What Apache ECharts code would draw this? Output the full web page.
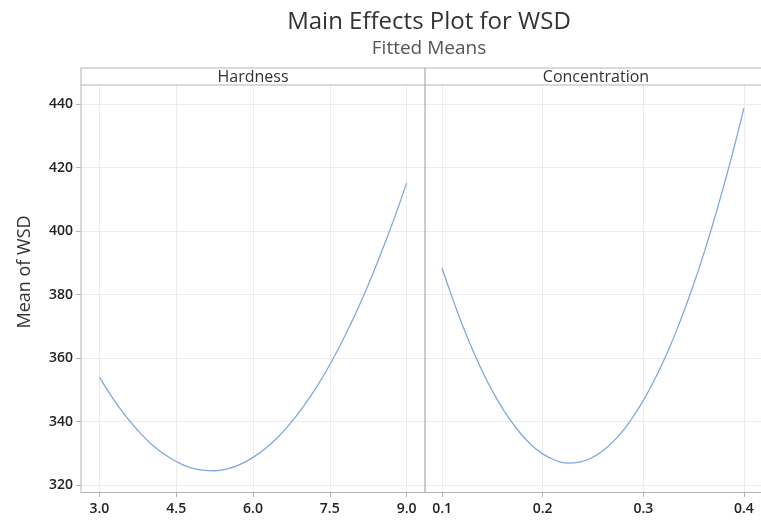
<!DOCTYPE html>
<html>
<head>
<meta charset="utf-8">
<script src="https://cdn.jsdelivr.net/npm/echarts@6/dist/echarts.min.js"></script>
<style>
  html, body { margin: 0; padding: 0; background: #fff; }
  #chart { width: 761px; height: 521px; }
</style>
</head>
<body>
<div id="chart"></div>
<script>
// Fitted means of WSD across the two factors
const hardness = [3.0, 3.25, 3.5, 3.75, 4.0, 4.25, 4.5, 4.75, 5.0, 5.25, 5.5, 5.75, 6.0,
  6.25, 6.5, 6.75, 7.0, 7.25, 7.5, 7.75, 8.0, 8.25, 8.5, 8.75, 9.0];
const wsdByHardness = [354.0, 347.6, 342.0, 337.2, 333.1, 329.9, 327.4, 325.6, 324.7, 324.5,
  325.1, 326.5, 328.7, 331.6, 335.3, 339.8, 345.1, 351.1, 357.9, 365.5, 373.9, 383.0, 393.0,
  403.6, 415.1];

const concentration = [0.1, 0.1125, 0.125, 0.1375, 0.15, 0.1625, 0.175, 0.1875, 0.2, 0.2125,
  0.225, 0.2375, 0.25, 0.2625, 0.275, 0.2875, 0.3, 0.3125, 0.325, 0.3375, 0.35, 0.3625, 0.375,
  0.3875, 0.4];
const wsdByConcentration = [388.3, 376.9, 366.6, 357.5, 349.6, 342.9, 337.4, 333.0, 329.8,
  327.8, 326.9, 327.3, 328.8, 331.5, 335.3, 340.4, 346.6, 354.0, 362.5, 372.3, 383.2, 395.3,
  408.6, 423.0, 438.7];

// Tick labels
const hardnessTicks = [3.0, 4.5, 6.0, 7.5, 9.0];
const concentrationTicks = [0.1, 0.2, 0.3, 0.4];
const wsdTicks = [320, 340, 360, 380, 400, 420, 440];
const panelTitles = ['Hardness', 'Concentration'];

// Panel layout (pixels)
const L = 81, DIV = 425, R = 767, TOP = 85, BOTTOM = 492, STRIP_TOP = 68;
const FONT = '"Open Sans", "Noto Sans", sans-serif';
const LINE_COLOR = '#80aadc';
const GRID_COLOR = '#ececec';
const FRAME_COLOR = '#b4b4b4';

const chart = echarts.init(document.getElementById('chart'), null, { renderer: 'canvas' });

function xAxisFor(gridIndex, min, max, ticks, digits) {
  return {
    type: 'value', gridIndex, min, max,
    axisLine: { show: true, onZero: false, lineStyle: { color: FRAME_COLOR, width: 1 } },
    axisTick: { show: true, length: 5, customValues: ticks, lineStyle: { color: FRAME_COLOR } },
    axisLabel: {
      customValues: ticks, margin: 10, color: '#222', fontFamily: FONT, fontSize: 14,
      fontWeight: 600, formatter: v => Number(v).toFixed(digits)
    },
    splitLine: { show: true, lineStyle: { color: GRID_COLOR, width: 1 } }
  };
}

function yAxisFor(gridIndex, labelled) {
  return {
    type: 'value', gridIndex, min: 317.8, max: 446.0,
    axisLine: { show: false },
    axisTick: { show: labelled, length: 5, customValues: wsdTicks, lineStyle: { color: FRAME_COLOR } },
    axisLabel: {
      show: labelled, customValues: wsdTicks, margin: 8, color: '#222', fontFamily: FONT,
      fontSize: 14, fontWeight: 600
    },
    splitLine: { show: true, lineStyle: { color: GRID_COLOR, width: 1 } }
  };
}

const frameLine = (x1, y1, x2, y2, color) => ({
  type: 'line', z: 100, silent: true,
  shape: { x1, y1, x2, y2 },
  style: { stroke: color, lineWidth: 1 }
});

const stripText = (text, x) => ({
  type: 'text', z: 100, silent: true,
  x, y: (STRIP_TOP + TOP) / 2 + 1,
  style: {
    text, fill: '#333', font: '16px ' + FONT, letterSpacing: 1,
    align: 'center', verticalAlign: 'middle'
  }
});

const option = {
  backgroundColor: '#fff',
  animation: false,
  title: [
    {
      text: 'Main Effects Plot for WSD', left: 424, top: 5, textAlign: 'center',
      textStyle: { color: '#333', fontFamily: FONT, fontSize: 24, fontWeight: 'normal', letterSpacing: 1 }
    },
    {
      text: 'Fitted Means', left: 424, top: 34, textAlign: 'center',
      textStyle: { color: '#555', fontFamily: FONT, fontSize: 19, fontWeight: 'normal', letterSpacing: 0.7 }
    }
  ],
  grid: [
    { left: L, top: TOP, width: DIV - L, height: BOTTOM - TOP },
    { left: DIV, top: TOP, width: R - DIV, height: BOTTOM - TOP }
  ],
  xAxis: [
    xAxisFor(0, 2.64, 9.36, hardnessTicks, 1),
    xAxisFor(1, 0.083, 0.417, concentrationTicks, 1)
  ],
  yAxis: [yAxisFor(0, true), yAxisFor(1, false)],
  series: [
    {
      type: 'line', xAxisIndex: 0, yAxisIndex: 0, showSymbol: false, smooth: true,
      data: hardness.map((x, i) => [x, wsdByHardness[i]]),
      lineStyle: { color: LINE_COLOR, width: 1.3 }
    },
    {
      type: 'line', xAxisIndex: 1, yAxisIndex: 1, showSymbol: false, smooth: true,
      data: concentration.map((x, i) => [x, wsdByConcentration[i]]),
      lineStyle: { color: LINE_COLOR, width: 1.3 }
    }
  ],
  graphic: [
    frameLine(L, STRIP_TOP, R, STRIP_TOP, FRAME_COLOR),
    frameLine(L, TOP, R, TOP, FRAME_COLOR),
    frameLine(L, STRIP_TOP, L, BOTTOM, FRAME_COLOR),
    frameLine(DIV, STRIP_TOP, DIV, BOTTOM, '#9a9a9a'),
    stripText(panelTitles[0], (L + DIV) / 2),
    stripText(panelTitles[1], (DIV + R) / 2),
    {
      type: 'text', z: 100, silent: true,
      x: 25, y: 272, rotation: Math.PI / 2,
      style: {
        text: 'Mean of WSD', fill: '#333', font: '18px ' + FONT,
        align: 'center', verticalAlign: 'middle'
      }
    }
  ]
};

chart.setOption(option);
</script>
</body>
</html>
